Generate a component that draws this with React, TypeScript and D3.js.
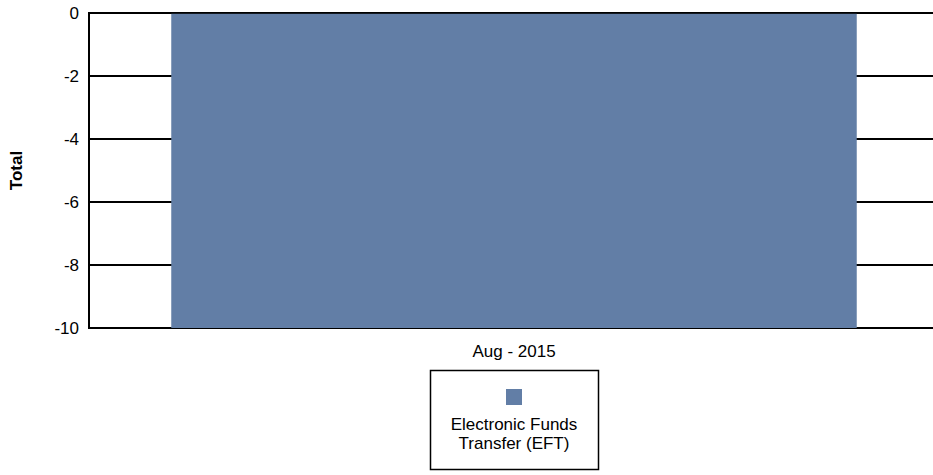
import { useEffect, useRef } from 'react';
import * as d3 from 'd3';

const categories = ['Aug - 2015'];
const eftValues = [-10];
const yTicks = [0, -2, -4, -6, -8, -10];
const seriesName = ['Electronic Funds', 'Transfer (EFT)'];

const App = () => {
  const svgRef = useRef<SVGSVGElement>(null);

  useEffect(() => {
    document.body.style.margin = '0';
    const w = 933;
    const h = 475;
    const margin = { top: 13, bottom: 147, left: 89, right: -6 };
    const width = w - margin.left - margin.right;
    const height = h - margin.top - margin.bottom;
    const font = 'Liberation Sans, Arial, sans-serif';

    const svg = d3.select(svgRef.current);
    svg.selectAll('*').remove();
    svg.attr('width', w).attr('height', h);

    const x = d3.scaleBand<string>().domain(categories).range([0, width])
      .paddingInner(0).paddingOuter(0.12);
    const y = d3.scaleLinear().domain([0, -10]).range([0, height]);

    const g = svg.append('g').attr('transform', `translate(${margin.left},${margin.top})`);

    // gridlines
    g.selectAll('line.grid')
      .data(yTicks)
      .enter().append('line')
      .attr('x1', 0).attr('x2', width)
      .attr('y1', d => y(d)).attr('y2', d => y(d))
      .attr('stroke', '#000').attr('stroke-width', 2);

    // bars (from 0 down to value)
    g.selectAll('rect.bar')
      .data(eftValues)
      .enter().append('rect')
      .attr('x', (_, i) => x(categories[i])!)
      .attr('width', x.bandwidth())
      .attr('y', y(0) + 0.8)
      .attr('height', d => y(d) - y(0) - 0.8)
      .attr('fill', '#627ea6');

    // left axis line
    g.append('line')
      .attr('x1', 0).attr('x2', 0)
      .attr('y1', -1).attr('y2', height + 1)
      .attr('stroke', '#000').attr('stroke-width', 2);

    // tick labels
    g.selectAll('text.tick')
      .data(yTicks)
      .enter().append('text')
      .attr('x', -10)
      .attr('y', d => y(d))
      .attr('dy', '0.35em')
      .attr('text-anchor', 'end')
      .style('font-family', font)
      .style('font-size', '17px')
      .text(d => d);

    // category label
    g.selectAll('text.cat')
      .data(categories)
      .enter().append('text')
      .attr('x', d => x(d)! + x.bandwidth() / 2)
      .attr('y', height + 29)
      .attr('text-anchor', 'middle')
      .style('font-family', font)
      .style('font-size', '17px')
      .text(d => d);

    // y title
    svg.append('text')
      .attr('transform', `translate(22,${margin.top + height / 2}) rotate(-90)`)
      .attr('text-anchor', 'middle')
      .style('font-family', font)
      .style('font-size', '17px')
      .style('font-weight', 'bold')
      .text('Total');

    // legend
    const cx = margin.left + x(categories[0])! + x.bandwidth() / 2;
    const legend = svg.append('g');
    legend.append('rect')
      .attr('x', 430.5).attr('y', 370.5)
      .attr('width', 168).attr('height', 99)
      .attr('fill', 'none').attr('stroke', '#000').attr('stroke-width', 1.5);
    legend.append('rect')
      .attr('x', cx - 8).attr('y', 389)
      .attr('width', 16).attr('height', 16)
      .attr('fill', '#627ea6');
    legend.selectAll('text')
      .data(seriesName)
      .enter().append('text')
      .attr('x', cx)
      .attr('y', (_, i) => 430 + i * 19)
      .attr('text-anchor', 'middle')
      .style('font-family', font)
      .style('font-size', '17px')
      .text(d => d);
  }, []);

  return <svg ref={svgRef} style={{ display: 'block' }}></svg>;
};

export default App;
